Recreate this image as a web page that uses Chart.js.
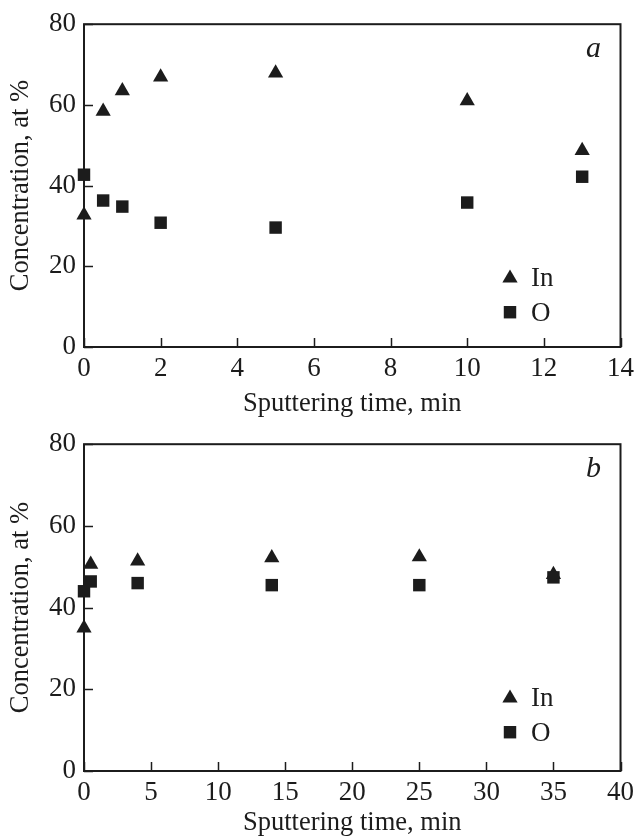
<!DOCTYPE html>
<html>
<head>
<meta charset="utf-8">
<script src="https://cdn.jsdelivr.net/npm/chart.js@4.4.1/dist/chart.umd.min.js"></script>
<style>
  body { margin: 0; background: #fff; }
  canvas { display: block; }
</style>
</head>
<body>
<canvas id="chartA" width="640" height="420"></canvas>
<canvas id="chartB" width="640" height="419"></canvas>
<script>
// panel a
const timeA = [0, 0.5, 1, 2, 5, 10, 13]
const indiumA = [32.7, 58.4, 63.5, 66.9, 67.9, 61.0, 48.7]
const oxygenA = [42.7, 36.3, 34.8, 30.8, 29.6, 35.8, 42.2]

// panel b
const timeB = [0, 0.5, 4, 14, 25, 35]
const indiumB = [35.0, 50.6, 51.4, 52.2, 52.4, 48.1]
const oxygenB = [44.0, 46.4, 46.0, 45.5, 45.5, 47.4]

const yTicks = [0, 20, 40, 60, 80]
const seriesNames = ["In", "O"]

const serif = "'Liberation Serif', 'Times New Roman', serif"
const ink = "#1c1c1c"
const markerSize = 8.8

function toPoints(xs, ys) {
  return xs.map((x, i) => ({ x: x, y: ys[i] }))
}

function markerPath(ctx, style, x, y, r) {
  ctx.beginPath()
  if (style === "triangle") {
    ctx.moveTo(x, y - r)
    ctx.lineTo(x + r * Math.sqrt(3) / 2, y + r / 2)
    ctx.lineTo(x - r * Math.sqrt(3) / 2, y + r / 2)
  } else {
    const s = r * Math.SQRT1_2
    ctx.rect(x - s, y - s, 2 * s, 2 * s)
  }
  ctx.closePath()
}

// box round the plot and inward tick marks
const framePlugin = {
  id: "frame",
  beforeDatasetsDraw(chart) {
    const { ctx, chartArea: a, scales } = chart
    ctx.save()
    ctx.strokeStyle = ink
    ctx.lineWidth = 2
    ctx.strokeRect(a.left, a.top, a.right - a.left, a.bottom - a.top)
    ctx.lineWidth = 1.5
    ctx.beginPath()
    scales.x.ticks.forEach((t) => {
      const px = Math.round(scales.x.getPixelForValue(t.value)) + 0.5
      ctx.moveTo(px, a.bottom)
      ctx.lineTo(px, a.bottom - 9)
    })
    scales.y.ticks.forEach((t) => {
      const py = Math.round(scales.y.getPixelForValue(t.value)) + 0.5
      ctx.moveTo(a.left, py)
      ctx.lineTo(a.left + 9, py)
    })
    ctx.stroke()
    ctx.restore()
  },
}

// legend and panel letter inside the plot
const panelPlugin = {
  id: "panel",
  afterDraw(chart, args, opts) {
    const { ctx, chartArea: a } = chart
    ctx.save()
    ctx.fillStyle = ink
    markerPath(ctx, "triangle", 510, a.top + 254, markerSize)
    ctx.fill()
    markerPath(ctx, "rect", 510, a.top + 288, markerSize)
    ctx.fill()
    ctx.font = "27px " + serif
    ctx.textBaseline = "alphabetic"
    ctx.textAlign = "left"
    ctx.fillText(seriesNames[0], 531, a.top + 262)
    ctx.fillText(seriesNames[1], 531, a.top + 297)
    ctx.font = "italic 30px " + serif
    ctx.fillText(opts.letter, 586, a.top + 33)
    ctx.restore()
  },
}

function makePanel(id, cfg) {
  const ctx = document.getElementById(id).getContext("2d")
  return new Chart(ctx, {
    type: "scatter",
    data: {
      datasets: [
        {
          label: seriesNames[1],
          data: toPoints(cfg.time, cfg.oxygen),
          pointStyle: "rect",
          pointRadius: markerSize,
          backgroundColor: ink,
          borderWidth: 0,
          clip: false,
        },
        {
          label: seriesNames[0],
          data: toPoints(cfg.time, cfg.indium),
          pointStyle: "triangle",
          pointRadius: markerSize,
          backgroundColor: ink,
          borderWidth: 0,
          clip: false,
        },
      ],
    },
    options: {
      responsive: false,
      animation: false,
      devicePixelRatio: 1,
      layout: { padding: { left: 0, right: 17, top: cfg.top, bottom: 0 } },
      plugins: {
        legend: { display: false },
        tooltip: { enabled: false },
        panel: { letter: cfg.letter },
      },
      scales: {
        x: {
          type: "linear",
          min: 0,
          max: cfg.xMax,
          grid: { display: false, drawTicks: false },
          border: { display: false },
          ticks: {
            stepSize: cfg.xStep,
            color: ink,
            padding: 6,
            maxRotation: 0,
            font: { family: serif, size: 27 },
          },
          title: {
            display: true,
            text: "Sputtering time, min",
            color: ink,
            font: { family: serif, size: 26.5 },
            padding: { top: cfg.titlePad, bottom: 0 },
          },
          afterFit: (s) => { s.height = cfg.xHeight },
        },
        y: {
          min: 0,
          max: 80,
          grid: { display: false, drawTicks: false },
          border: { display: false },
          afterBuildTicks: (s) => { s.ticks = yTicks.map((v) => ({ value: v })) },
          ticks: {
            color: ink,
            padding: 8,
            font: { family: serif, size: 27 },
          },
          title: {
            display: true,
            text: "Concentration, at %",
            color: ink,
            font: { family: serif, size: 26.5 },
            padding: { top: 5, bottom: 0 },
          },
          afterFit: (s) => { s.width = 84 },
        },
      },
    },
    plugins: [framePlugin, panelPlugin],
  })
}

makePanel("chartA", {
  time: timeA, indium: indiumA, oxygen: oxygenA,
  xMax: 14, xStep: 2, letter: "a", top: 19, xHeight: 73, titlePad: 5,
})

makePanel("chartB", {
  time: timeB, indium: indiumB, oxygen: oxygenB,
  xMax: 40, xStep: 5, letter: "b", top: 23, xHeight: 68, titlePad: 3,
})
</script>
</body>
</html>
